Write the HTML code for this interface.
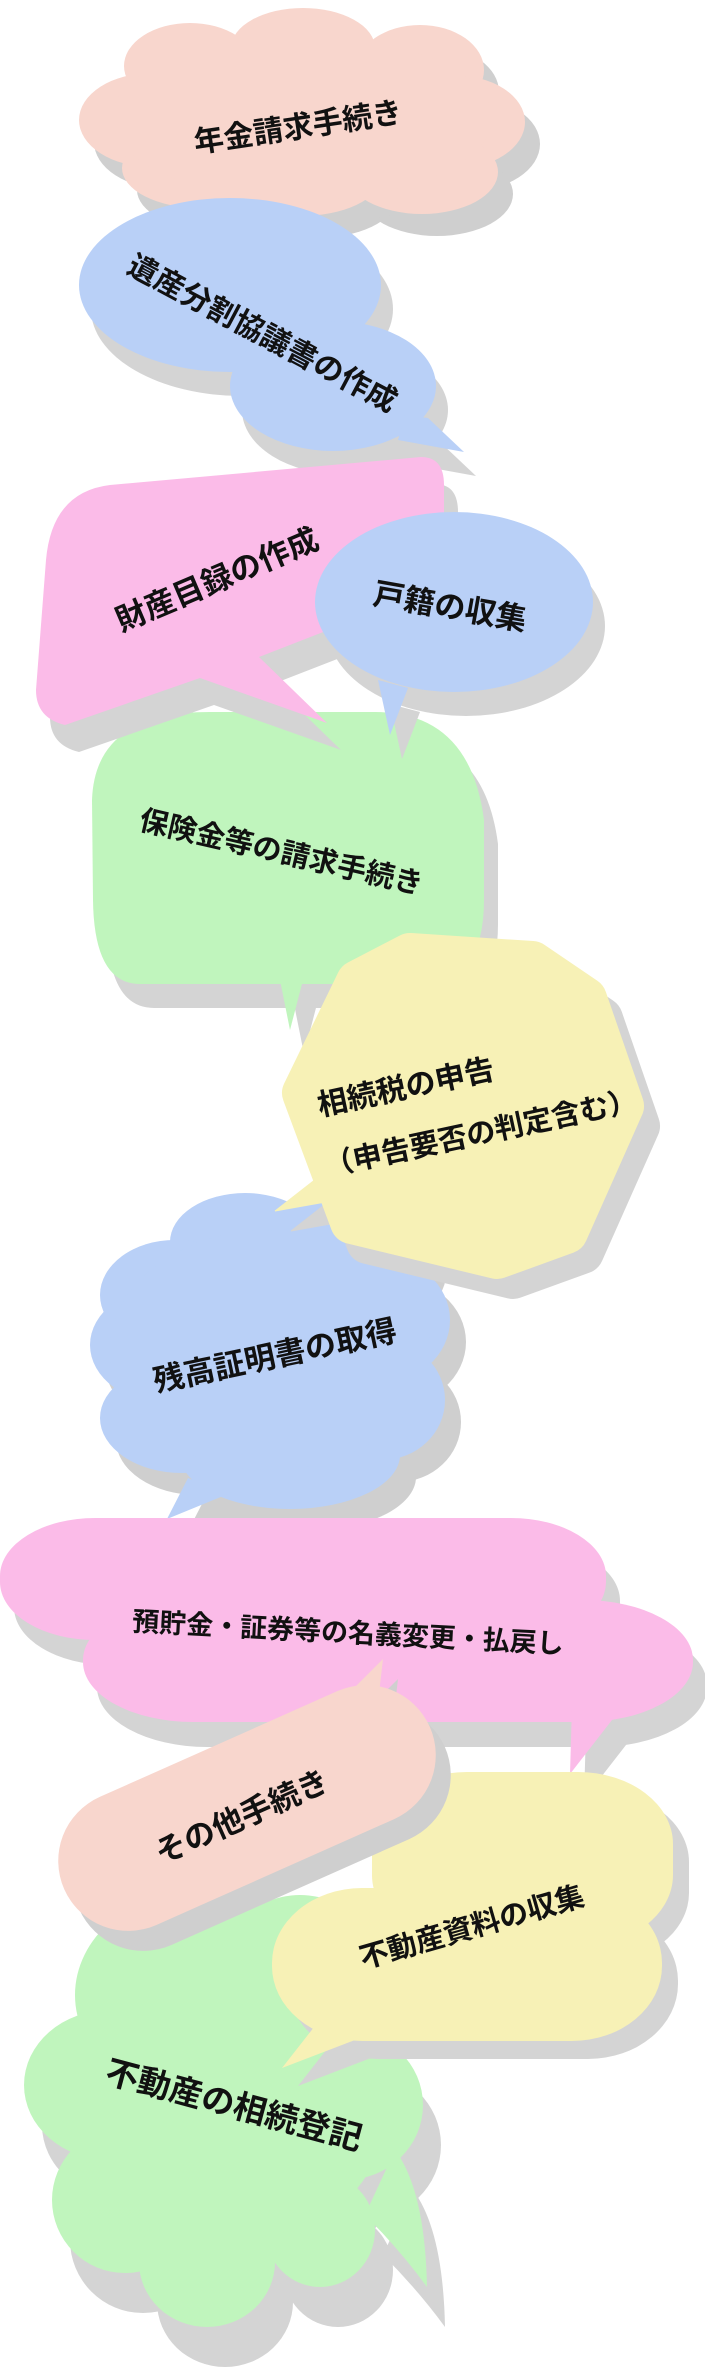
<!DOCTYPE html>
<html><head><meta charset="utf-8"><style>
html,body{margin:0;padding:0;background:#fff;}
svg{display:block;}
text{font-family:"Liberation Sans","Noto Sans CJK JP",sans-serif;font-weight:bold;fill:#111;}
</style></head><body>
<svg width="705" height="2367" viewBox="0 0 705 2367" xmlns="http://www.w3.org/2000/svg">
<defs>
<g id="s1">
<ellipse cx="303" cy="48" rx="72" ry="40"/><ellipse cx="190" cy="66" rx="66" ry="43"/><ellipse cx="420" cy="70" rx="64" ry="45"/>
<ellipse cx="152" cy="120" rx="73" ry="47"/><ellipse cx="453" cy="122" rx="72" ry="47"/>
<ellipse cx="200" cy="168" rx="78" ry="40"/><ellipse cx="422" cy="172" rx="76" ry="42"/><ellipse cx="300" cy="178" rx="80" ry="38"/>
<ellipse cx="302" cy="118" rx="190" ry="82"/>
</g>
<g id="s2">
<ellipse cx="230" cy="285" rx="151" ry="87"/><ellipse cx="333" cy="386" rx="103" ry="65"/>
<polygon points="405,415 428,418 464,452 398,440"/>
</g>
<g id="s3">
<path d="M110,485 L421,457 Q444,457 444,485 L444,585 L259,657 L327,723 L200,678 L65,725 Q36,718 36,690 L46,560 Q52,492 110,485 Z"/>
</g>
<g id="s4">
<ellipse cx="454" cy="602" rx="139" ry="90"/><polygon points="378,680 390,735 408,688"/>
</g>
<g id="s5">
<path d="M140,984 Q94,984 93,900 L92,800 Q95,712 210,712 L375,712 Q470,712 484,820 L484,900 Q484,984 420,984 Z"/>
<polygon points="280,980 290,1030 303,980"/>
</g>
<g id="s6">
<polygon points="304,1093 358,982 410,955 532,963 585,999 622,1106 566,1232 497,1257 352,1222" stroke-width="44" stroke-linejoin="round"/>
<polygon points="330,1168 275,1211 348,1198"/>
</g>
<g id="s7">
<ellipse cx="245" cy="1242" rx="75" ry="49"/><ellipse cx="175" cy="1295" rx="75" ry="55"/><ellipse cx="172" cy="1345" rx="82" ry="60"/>
<ellipse cx="182" cy="1418" rx="82" ry="55"/><ellipse cx="290" cy="1455" rx="110" ry="54"/><ellipse cx="382" cy="1400" rx="63" ry="60"/>
<ellipse cx="375" cy="1320" rx="75" ry="65"/><ellipse cx="345" cy="1252" rx="85" ry="55"/><ellipse cx="270" cy="1350" rx="160" ry="120"/>
<polygon points="188,1478 167,1519 228,1494"/>
</g>
<g id="s8">
<rect x="0" y="1518" width="606" height="122" rx="95" ry="58"/>
<rect x="83" y="1600" width="610" height="122" rx="110" ry="60"/>
<polygon points="572,1705 570,1774 626,1702"/>
</g>
<g id="s9">
<ellipse cx="200" cy="1995" rx="125" ry="105"/><ellipse cx="300" cy="1995" rx="90" ry="100"/>
<ellipse cx="110" cy="2085" rx="86" ry="75"/><ellipse cx="125" cy="2200" rx="73" ry="73"/>
<ellipse cx="207" cy="2262" rx="68" ry="65"/><ellipse cx="320" cy="2230" rx="55" ry="57"/>
<ellipse cx="345" cy="2105" rx="78" ry="75"/><ellipse cx="230" cy="2130" rx="150" ry="110"/>
<path d="M395,2150 Q425,2190 427,2287 Q400,2250 365,2215 Z"/>
</g>
<g id="s10">
<rect x="372" y="1772" width="301" height="175" rx="95" ry="72"/>
<rect x="272" y="1888" width="390" height="153" rx="90" ry="75"/>
<polygon points="318,2022 282,2068 368,2035"/>
</g>
<g id="s11">
<rect x="47" y="1738" width="400" height="140" rx="70" ry="70" transform="rotate(-24 247 1808)"/>
<polygon points="330,1712 383,1659 378,1702"/>
</g>
</defs>

<use href="#s1" transform="translate(15,22)" fill="#cfcfcf"/>
<use href="#s1" fill="#f8d6cd"/>
<text transform="translate(298,128) rotate(-8.5)" text-anchor="middle" dominant-baseline="central" font-size="30">年金請求手続き</text>

<use href="#s2" transform="translate(12,24)" fill="#d4d4d4"/>
<use href="#s2" fill="#b9d0f7"/>
<text transform="translate(262,334) rotate(28)" text-anchor="middle" dominant-baseline="central" font-size="30">遺産分割協議書の作成</text>

<use href="#s5" transform="translate(14,24)" fill="#d4d4d4"/>
<use href="#s5" fill="#c0f5bd"/>
<text transform="translate(281,853) rotate(13)" text-anchor="middle" dominant-baseline="central" font-size="29">保険金等の請求手続き</text>

<use href="#s3" transform="translate(14,27)" fill="#d4d4d4"/>
<use href="#s3" fill="#fbbbe8"/>
<text transform="translate(217,580) rotate(-23)" text-anchor="middle" dominant-baseline="central" font-size="31">財産目録の作成</text>

<use href="#s4" transform="translate(12,24)" fill="#d4d4d4"/>
<use href="#s4" fill="#b9d0f7"/>
<text transform="translate(450,607) rotate(10)" text-anchor="middle" dominant-baseline="central" font-size="31">戸籍の収集</text>

<use href="#s7" transform="translate(16,22)" fill="#cfcfcf"/>
<use href="#s7" fill="#b9d0f7"/>
<text transform="translate(275,1356) rotate(-12)" text-anchor="middle" dominant-baseline="central" font-size="31">残高証明書の取得</text>

<use href="#s6" transform="translate(16,20)" fill="#d4d4d4" stroke="#d4d4d4"/>
<use href="#s6" fill="#f7f1b6" stroke="#f7f1b6"/>
<text transform="translate(406,1088) rotate(-12)" text-anchor="middle" dominant-baseline="central" font-size="30">相続税の申告</text>
<text transform="translate(481,1134) rotate(-12)" text-anchor="middle" dominant-baseline="central" font-size="29">（申告要否の判定含む）</text>

<use href="#s8" transform="translate(14,25)" fill="#d4d4d4"/>
<use href="#s8" fill="#fbbbe8"/>
<text transform="translate(348,1633) rotate(3)" text-anchor="middle" dominant-baseline="central" font-size="27">預貯金・証券等の名義変更・払戻し</text>

<use href="#s9" transform="translate(18,40)" fill="#d4d4d4"/>
<use href="#s9" fill="#c0f5bd"/>
<text transform="translate(234,2105) rotate(15)" text-anchor="middle" dominant-baseline="central" font-size="33">不動産の相続登記</text>

<use href="#s10" transform="translate(16,18)" fill="#d4d4d4"/>
<use href="#s10" fill="#f7f1b6"/>
<text transform="translate(472,1928) rotate(-16)" text-anchor="middle" dominant-baseline="central" font-size="29">不動産資料の収集</text>

<use href="#s11" transform="translate(15,20)" fill="#cfcfcf"/>
<use href="#s11" fill="#f8d6cd"/>
<text transform="translate(242,1817) rotate(-24)" text-anchor="middle" dominant-baseline="central" font-size="31">その他手続き</text>
</svg>
</body></html>
